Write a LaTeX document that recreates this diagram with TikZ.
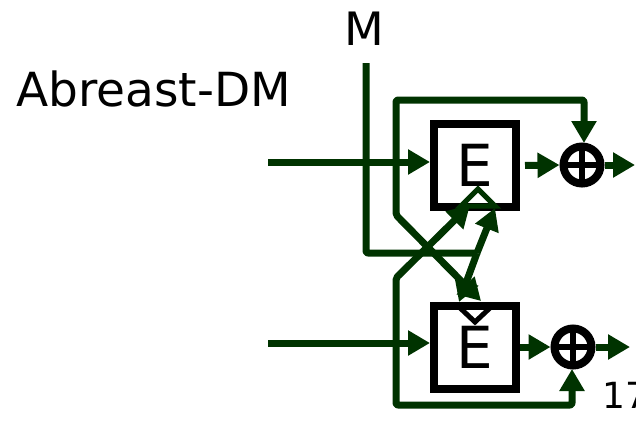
\documentclass[tikz,border=0pt]{standalone}
\usepackage{fontspec}
\setmainfont{DejaVu Sans}
\usetikzlibrary{arrows.meta}
\definecolor{dg}{RGB}{0,51,0}
\begin{document}
\begin{tikzpicture}[x=1pt,y=-1pt,
  wire/.style={draw=dg,line width=7pt,rounded corners=2pt,line join=round},
  arr/.style={wire,-{Triangle[length=22pt,width=24pt]}},
  ebox/.style={draw=black,line width=8pt,minimum width=82pt,minimum height=83pt,inner sep=0pt,font=\fontsize{58}{58}\selectfont},
  xorc/.style={circle,draw=black,line width=8pt,minimum size=37pt,inner sep=0pt},
  lbl/.style={inner sep=0pt,text=black}]
\useasboundingbox (0,0) rectangle (636,421);
% labels
\node[lbl,anchor=base west,font=\fontsize{47}{47}\selectfont] (title) at (16,106) {Abreast-DM};
\node[lbl,anchor=base,font=\fontsize{46}{46}\selectfont] (mlabel) at (364,45) {M};
\node[lbl,anchor=base west,font=\fontsize{36}{36}\selectfont] (page) at (602,408) {17};
% blocks
\node[ebox] (b1) at (475,165.5) {\raisebox{-3pt}{E}};
\node[ebox] (b2) at (475,347) {\raisebox{-3pt}{E}};
\node[xorc] (x1) at (582,165) {};
\node[xorc] (x2) at (573,347) {};
\foreach \n in {x1,x2}{
  \draw[black,line width=6.5pt] ([yshift=19pt]\n.center) -- ([yshift=-19pt]\n.center);
  \draw[black,line width=6.5pt] ([xshift=-19pt]\n.center) -- ([xshift=19pt]\n.center);
}
% coordinates
\coordinate (gin) at (268,162);
\coordinate (hin) at (268,343);
\coordinate (gb) at (396,162);
\coordinate (hb) at (396,343);
\coordinate (min) at (366,63);
\coordinate (mj) at (477,253);
\coordinate (o1) at (635,165);
\coordinate (o2) at (630,347);
% inputs
\draw[arr] (gin) -- (gin -| b1.west);
\draw[arr] (hin) -- (hin -| b2.west);
% G branches
\draw[arr] (gb) -- (396,100) -- (584,100) -- (584,143);
\draw[arr] (gb) -- (396,215) -- (481,301);
% H branches
\draw[arr] (hb) -- (396,405) -- (572,405) -- (572,369);
\draw[arr] (hb) -- (396,278) -- (470,205);
% M
\draw[wire] (min) -- (366,253) -- (mj);
\draw[arr] (mj) -- (495,208);
\draw[arr] (mj) -- (459,302);
% outputs
\draw[arr,shorten <=5pt] (b1.east) -- (x1.west);
\draw[arr] (b2.east) -- (x2.west);
\draw[arr] (x1.east) -- (o1);
\draw[arr] (x2.east) -- (o2);
% key markers
\draw[dg,line width=5pt,line join=miter] (461,206) -- (478,189) -- (495,206) -- cycle;
\draw[black,line width=5pt,line join=miter] (458,306) -- (475,322) -- (492,306);
\end{tikzpicture}
\end{document}
